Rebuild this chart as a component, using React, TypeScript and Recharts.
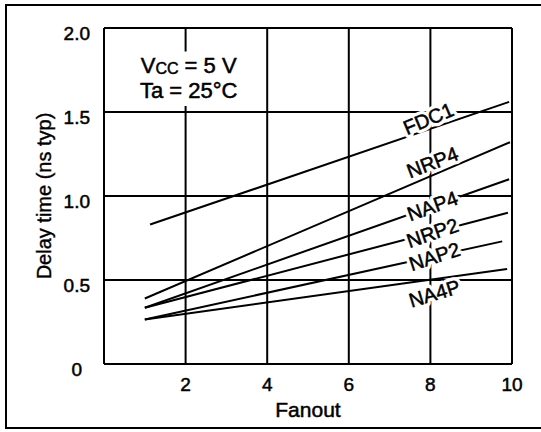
import React from "react";
import { LineChart, Line, XAxis, YAxis, CartesianGrid, ReferenceArea, ReferenceDot } from "recharts";

// delay vs fanout (two end points per straight line)
const fdc1 = [
  { fanout: 1.13, delay: 0.83 },
  { fanout: 9.93, delay: 1.56 },
];
const nrp4 = [
  { fanout: 1.0, delay: 0.39 },
  { fanout: 9.95, delay: 1.32 },
];
const nap4 = [
  { fanout: 1.0, delay: 0.335 },
  { fanout: 9.93, delay: 1.1 },
];
const nrp2 = [
  { fanout: 1.0, delay: 0.335 },
  { fanout: 9.9, delay: 0.9 },
];
const nap2 = [
  { fanout: 1.0, delay: 0.265 },
  { fanout: 9.76, delay: 0.73 },
];
const na4p = [
  { fanout: 1.0, delay: 0.265 },
  { fanout: 9.88, delay: 0.565 },
];

const seriesNames = ["FDC1", "NRP4", "NAP4", "NRP2", "NAP2", "NA4P"];
const seriesData = [fdc1, nrp4, nap4, nrp2, nap2, na4p];

// where each curve name is written (data coordinates)
const labelFanout = [7.95, 8.05, 8.05, 8.05, 8.1, 8.1];
const labelDelay = [1.46, 1.2, 0.94, 0.78, 0.64, 0.42];

const xTicks = [2, 4, 6, 8, 10];
const yTicks = [0, 0.5, 1.0, 1.5, 2.0];

const FONT = "'Liberation Sans', Arial, Helvetica, sans-serif";
const labelAngles = [-23, -21, -20, -19, -18, -17];

const YTick = (props: any) => {
  const { x, y, payload } = props;
  const v = payload.value;
  return (
    <text
      x={v === 0 ? x - 8 : x}
      y={y + 5}
      textAnchor="end"
      dominantBaseline="central"
      fontFamily={FONT}
      fontSize={19}
      fill="#000"
      stroke="#000"
      strokeWidth={0.5}
    >
      {v === 0 ? "0" : v.toFixed(1)}
    </text>
  );
};

const XTick = (props: any) => {
  const { x, y, payload } = props;
  return (
    <text
      x={x}
      y={y}
      textAnchor="middle"
      fontFamily={FONT}
      fontSize={19}
      fill="#000"
      stroke="#000"
      strokeWidth={0.5}
    >
      {payload.value}
    </text>
  );
};

const Conditions = (props: any) => {
  const { viewBox } = props;
  const cx = viewBox.x + viewBox.width / 2;
  const top = viewBox.y;
  return (
    <g fontFamily={FONT} fontSize={22} fill="#000" stroke="#000" strokeWidth={0.5}>
      <text x={cx} y={top + 21} textAnchor="middle">
        V<tspan fontSize={16} dy={1}>CC</tspan>
        <tspan dy={-1}> = 5 V</tspan>
      </text>
      <text x={cx} y={top + 46} textAnchor="middle">
        Ta = 25°C
      </text>
    </g>
  );
};

const curveLabel = (name: string, angle: number) => (p: any) => {
  const common = {
    x: p.cx,
    y: p.cy,
    transform: `rotate(${angle} ${p.cx} ${p.cy})`,
    textAnchor: "middle" as const,
    dominantBaseline: "central" as const,
    fontFamily: FONT,
    fontSize: 20,
  };
  return (
    <g>
      <text {...common} fill="#fff" stroke="#fff" strokeWidth={7} strokeLinejoin="round">
        {name}
      </text>
      <text {...common} fill="#000" stroke="#000" strokeWidth={0.5}>
        {name}
      </text>
    </g>
  );
};

export default function App() {
  return (
    <div style={{ position: "absolute", left: 0, top: 0, width: 541, height: 432, background: "#fff" }}>
      <div
        style={{
          position: "absolute",
          left: 5,
          top: 4,
          width: 560,
          height: 421,
          border: "2px solid #000",
        }}
      />
      <div style={{ position: "absolute", left: 0, top: 0 }}>
        <LineChart width={541} height={432} margin={{ top: 28, right: 29, bottom: 10, left: 0 }}>
          <CartesianGrid stroke="#000" strokeWidth={2} />
          <XAxis
            type="number"
            dataKey="fanout"
            domain={[0, 10]}
            ticks={xTicks}
            tickLine={false}
            tickSize={0}
            tickMargin={27}
            axisLine={{ stroke: "#000", strokeWidth: 2 }}
            height={58}
            tick={<XTick />}
            label={{
              value: "Fanout",
              position: "insideBottom",
              offset: 5,
              style: { fontFamily: FONT, fontSize: 21, fill: "#000", stroke: "#000", strokeWidth: 0.5 },
            }}
          />
          <YAxis
            type="number"
            domain={[0, 2]}
            ticks={yTicks}
            tickLine={false}
            tickSize={0}
            tickMargin={14}
            axisLine={{ stroke: "#000", strokeWidth: 2 }}
            width={104}
            tick={<YTick />}
            label={{
              value: "Delay time (ns typ)",
              angle: -90,
              position: "insideLeft",
              offset: 44,
              style: { fontFamily: FONT, fontSize: 20, fill: "#000", stroke: "#000", strokeWidth: 0.4, textAnchor: "middle" },
            }}
          />
          <ReferenceArea
            x1={0.75}
            x2={3.4}
            y1={1.535}
            y2={1.86}
            fill="#fff"
            fillOpacity={1}
            stroke="none"
            label={<Conditions />}
          />
          {seriesData.map((d, i) => (
            <Line
              key={seriesNames[i]}
              data={d}
              dataKey="delay"
              name={seriesNames[i]}
              stroke="#000"
              strokeWidth={2}
              dot={false}
              activeDot={false}
              isAnimationActive={false}
            />
          ))}
          {seriesNames.map((name, i) => (
            <ReferenceDot
              key={"lbl-" + name}
              x={labelFanout[i]}
              y={labelDelay[i]}
              r={0}
              shape={curveLabel(name, labelAngles[i])}
            />
          ))}
        </LineChart>
      </div>
    </div>
  );
}
